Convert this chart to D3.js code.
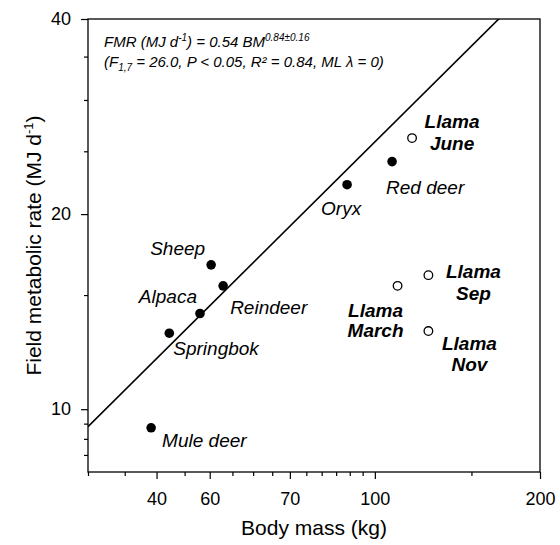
<!DOCTYPE html>
<html>
<head>
<meta charset="utf-8">
<script src="https://cdn.jsdelivr.net/npm/d3@7"></script>
<style>
  body { margin: 0; background: #fff; }
  text { font-family: Arial, "Liberation Sans", sans-serif; fill: #000; }
</style>
</head>
<body>
<div id="chart"></div>
<script>
// Species / season data (body mass kg, field metabolic rate MJ/d)
const species = ["Mule deer", "Springbok", "Alpaca", "Reindeer", "Sheep", "Oryx", "Red deer"];
const speciesMass = [39.1, 42.2, 48.0, 52.9, 50.3, 89.0, 107.5];
const speciesFmr = [9.36, 13.1, 14.05, 15.5, 16.7, 22.2, 24.1];

const llamas = [["Llama", "June"], ["Llama", "March"], ["Llama", "Sep"], ["Llama", "Nov"]];
const llamaMass = [116.9, 110.0, 125.2, 125.2];
const llamaFmr = [26.2, 15.5, 16.1, 13.2];

// regression FMR = a * BM^b
const fitA = 0.54, fitB = 0.84;

// axis ticks
const xMajor = [40, 50, 70, 100, 200];
const xMajorLabels = ["40", "60", "70", "100", "200"];
const xMinor = [30, 35, 45, 55, 60, 65, 75, 80, 85, 90, 95, 150];
const yMajor = [10, 20, 40];
const yMajorLabels = ["10", "20", "40"];
const yMinor = [8.5, 9, 9.5, 15, 25, 30, 35];

// label placement (pixel offsets from the point)
const speciesLabelPos = {
  "Mule deer": [11, 19, "start"],
  "Springbok": [4, 22, "start"],
  "Alpaca": [-3, -10, "end"],
  "Reindeer": [7, 28, "start"],
  "Sheep": [-6, -10, "end"],
  "Oryx": [-6, 30, "middle"],
  "Red deer": [-6, 32, "start"]
};
const llamaLabelPos = {
  "June": [40, -10, 12],
  "March": [-22, 31, 51],
  "Sep": [45, 3, 25],
  "Nov": [41, 19, 40]
};

const width = 560, height = 545;
const svg = d3.select("#chart").append("svg")
  .attr("width", width)
  .attr("height", height);

const x = d3.scaleLog().domain([30, 200]).range([88, 540]);
const y = d3.scaleLog().domain([8, 40]).range([472, 19]);

// clip for the fit line
svg.append("clipPath").attr("id", "plotclip")
  .append("rect")
  .attr("x", x.range()[0]).attr("y", y.range()[1])
  .attr("width", x.range()[1] - x.range()[0])
  .attr("height", y.range()[0] - y.range()[1]);

// x axis
const xAxisG = svg.append("g").attr("transform", `translate(0,${y.range()[0]})`);
xAxisG.append("g")
  .call(d3.axisBottom(x).tickValues(xMinor).tickSize(4).tickFormat(""))
  .call(g => g.select(".domain").remove());
xAxisG.append("g")
  .call(d3.axisBottom(x).tickValues(xMajor).tickSize(7).tickPadding(13)
    .tickFormat((d, i) => xMajorLabels[i]))
  .call(g => g.select(".domain").remove())
  .selectAll("text").style("font-size", "18px");

// y axis
const yAxisG = svg.append("g").attr("transform", `translate(${x.range()[0]},0)`);
yAxisG.append("g")
  .call(d3.axisLeft(y).tickValues(yMinor).tickSize(4).tickFormat(""))
  .call(g => g.select(".domain").remove());
yAxisG.append("g")
  .call(d3.axisLeft(y).tickValues(yMajor).tickSize(7).tickPadding(10)
    .tickFormat((d, i) => yMajorLabels[i]))
  .call(g => g.select(".domain").remove())
  .selectAll("text").style("font-size", "18px");

svg.selectAll(".tick line").attr("stroke", "#000").attr("stroke-width", 1.2);
svg.selectAll(".tick text").style("font-family", "Arial, 'Liberation Sans', sans-serif");

// frame
svg.append("rect")
  .attr("x", x.range()[0]).attr("y", y.range()[1])
  .attr("width", x.range()[1] - x.range()[0])
  .attr("height", y.range()[0] - y.range()[1])
  .attr("fill", "none").attr("stroke", "#000").attr("stroke-width", 1.3);

// axis titles
svg.append("text")
  .attr("x", (x.range()[0] + x.range()[1]) / 2)
  .attr("y", 535)
  .attr("text-anchor", "middle")
  .style("font-size", "21px")
  .text("Body mass (kg)");

const yTitle = svg.append("text")
  .attr("transform", `translate(41,${(y.range()[0] + y.range()[1]) / 2}) rotate(-90)`)
  .attr("text-anchor", "middle")
  .style("font-size", "21px");
yTitle.append("tspan").text("Field metabolic rate (MJ d");
yTitle.append("tspan").attr("dy", -8).style("font-size", "13px").text("-1");
yTitle.append("tspan").attr("dy", 8).text(")");

// fitted line
const [m0, m1] = x.domain();
svg.append("line")
  .attr("clip-path", "url(#plotclip)")
  .attr("x1", x(m0)).attr("y1", y(fitA * Math.pow(m0, fitB)))
  .attr("x2", x(m1)).attr("y2", y(fitA * Math.pow(m1, fitB)))
  .attr("stroke", "#000").attr("stroke-width", 1.6);

// equation text
const eq1 = svg.append("text").attr("x", 104).attr("y", 47)
  .style("font-size", "15px").style("font-style", "italic");
eq1.append("tspan").text("FMR (MJ d");
eq1.append("tspan").attr("dy", -6).style("font-size", "10px").text("-1");
eq1.append("tspan").attr("dy", 6).text(") = 0.54 BM");
eq1.append("tspan").attr("dy", -6).style("font-size", "10px").text("0.84±0.16");

const eq2 = svg.append("text").attr("x", 104).attr("y", 67)
  .style("font-size", "15px").style("font-style", "italic");
eq2.append("tspan").text("(F");
eq2.append("tspan").attr("dy", 4).style("font-size", "10px").text("1,7");
eq2.append("tspan").attr("dy", -4).text(" = 26.0, P < 0.05, R² = 0.84, ML λ = 0)");

// species points
const sp = species.map((name, i) => ({ name, mass: speciesMass[i], fmr: speciesFmr[i] }));
svg.selectAll(".sp").data(sp).enter().append("circle")
  .attr("class", "sp")
  .attr("cx", d => x(d.mass)).attr("cy", d => y(d.fmr))
  .attr("r", 4.8).attr("fill", "#000");

svg.selectAll(".splabel").data(sp).enter().append("text")
  .attr("class", "splabel")
  .attr("x", d => x(d.mass) + speciesLabelPos[d.name][0])
  .attr("y", d => y(d.fmr) + speciesLabelPos[d.name][1])
  .attr("text-anchor", d => speciesLabelPos[d.name][2])
  .style("font-size", "19px").style("font-style", "italic")
  .text(d => d.name);

// llama points
const ll = llamas.map((lab, i) => ({ lab, mass: llamaMass[i], fmr: llamaFmr[i] }));
svg.selectAll(".ll").data(ll).enter().append("circle")
  .attr("class", "ll")
  .attr("cx", d => x(d.mass)).attr("cy", d => y(d.fmr))
  .attr("r", 4.3).attr("fill", "#fff").attr("stroke", "#000").attr("stroke-width", 1.3);

ll.forEach(d => {
  const p = llamaLabelPos[d.lab[1]];
  const cx = x(d.mass) + p[0], cy = y(d.fmr);
  [p[1], p[2]].forEach((dy, k) => {
    svg.append("text")
      .attr("x", cx).attr("y", cy + dy)
      .attr("text-anchor", "middle")
      .style("font-size", "19px").style("font-style", "italic").style("font-weight", "bold")
      .text(d.lab[k]);
  });
});
</script>
</body>
</html>
